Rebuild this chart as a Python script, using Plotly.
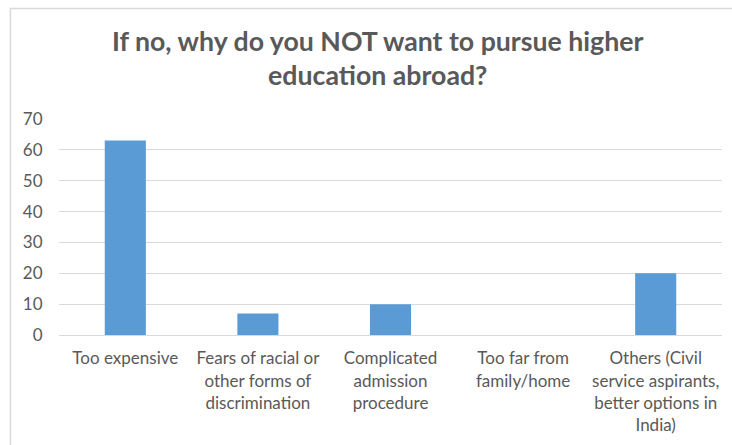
import plotly.graph_objects as go

categories = [
    "Too expensive",
    "Fears of racial or<br>other forms of<br>discrimination",
    "Complicated<br>admission<br>procedure",
    "Too far from<br>family/home",
    "Others (Civil<br>service aspirants,<br>better options in<br>India)",
]
values = [63, 7, 10, 0, 20]
y_ticks = [0, 10, 20, 30, 40, 50, 60, 70]

title_text = "If no, why do you NOT want to pursue higher<br>education abroad?"

fig = go.Figure()
fig.add_trace(go.Bar(
    x=categories,
    y=values,
    marker=dict(color="#5b9bd5", line=dict(width=0)),
    width=0.31,
    hoverinfo="x+y",
))

fig.update_layout(
    width=732,
    height=445,
    margin=dict(l=59, r=10, t=119, b=110),
    paper_bgcolor="white",
    plot_bgcolor="white",
    showlegend=False,
    title=dict(
        text="<b>" + title_text + "</b>",
        x=0.516,
        xanchor="center",
        xref="container",
        y=0.886,
        yanchor="top",
        yref="container",
        font=dict(family="Lato, Open Sans, sans-serif", size=26.7, color="#595959"),
    ),
    font=dict(family="Lato, Open Sans, sans-serif", size=17, color="#595959"),
    xaxis=dict(
        showgrid=False,
        showline=False,
        zeroline=False,
        ticks="outside",
        ticklen=8,
        tickcolor="rgba(0,0,0,0)",
        tickfont=dict(size=17, color="#595959"),
    ),
    yaxis=dict(
        range=[0, 70],
        tickvals=y_ticks,
        showgrid=True,
        gridcolor="#d9d9d9",
        gridwidth=1,
        zeroline=True,
        zerolinecolor="#d9d9d9",
        zerolinewidth=1,
        showline=False,
        ticks="outside",
        ticklen=12,
        tickcolor="rgba(0,0,0,0)",
        tickfont=dict(size=17, color="#595959"),
    ),
    bargap=0.69,
)

fig.add_shape(
    type="rect",
    xref="paper", yref="paper",
    x0=-0.0732, x1=1.2, y0=-0.8, y1=1.5116,
    line=dict(color="#d9d9d9", width=1.5),
    fillcolor="rgba(0,0,0,0)",
    layer="below",
)

fig.write_html(
    "out.html",
    config={"displayModeBar": False},
    post_script="document.body.style.margin='0';",
)
